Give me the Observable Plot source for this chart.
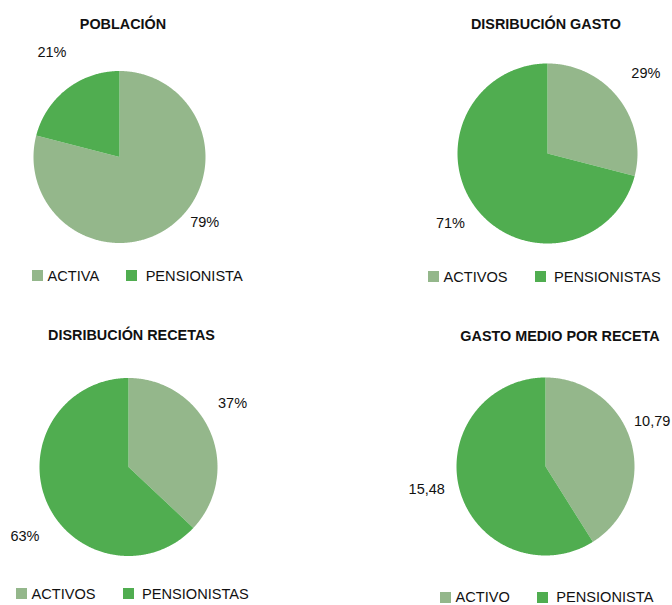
<!DOCTYPE html>
<html><head><meta charset="utf-8">
<script src="https://cdn.jsdelivr.net/npm/d3@7"></script>
<script src="https://cdn.jsdelivr.net/npm/@observablehq/plot@0.6"></script>
<style>
body{margin:0;background:#fff;font-family:"Liberation Sans",Arial,sans-serif;}
#page{position:relative;width:672px;height:605px;overflow:hidden;}
.panel{position:absolute;}
.title{position:absolute;font-weight:bold;font-size:14.4px;transform:translate(-50%,-50%);white-space:nowrap;color:#111;}
.legend{position:absolute;display:flex;align-items:center;font-size:14.6px;transform:translateY(-50%);white-space:nowrap;color:#111;}
.item{display:flex;align-items:center;}
.item:first-child{margin-right:27px;}
.sw{width:11px;height:11px;display:inline-block;}
.item:first-child .sw{margin-right:4.5px;}
.item:nth-child(2) .sw{margin-right:8.5px;}
</style></head><body><div id="page"></div><script>
// ---- data ----
const titles = ["POBLACIÓN", "DISRIBUCIÓN GASTO", "DISRIBUCIÓN RECETAS", "GASTO MEDIO POR RECETA"];
const seriesKeys = ["ACTIVOS", "PENSIONISTAS"];
const activosValues = [79, 29, 37, 10.79];
const pensionistasValues = [21, 71, 63, 15.48];
const activosLabels = ["79%", "29%", "37%", "10,79"];
const pensionistasLabels = ["21%", "71%", "63%", "15,48"];
const legendActivos = ["ACTIVA", "ACTIVOS", "ACTIVOS", "ACTIVO"];
const legendPensionistas = ["PENSIONISTA", "PENSIONISTAS", "PENSIONISTAS", "PENSIONISTA"];
const colors = ["#94b78b", "#50ad50"];

// ---- layout (pixels) ----
const layout = [
  {left:0,   top:0,   w:336, h:300, cx:119, cy:156.5, r:86, titleX:123,   titleY:24,    legendX:32,  legendY:275.5, nudge:[[-14.6,1.25],[5,1.45]]},
  {left:336, top:0,   w:336, h:300, cx:211, cy:153,   r:90, titleX:546,   titleY:24,    legendX:428, legendY:276.5, nudge:[[-1.4,1.41],[2,1.33]]},
  {left:0,   top:300, w:336, h:305, cx:128, cy:166.5, r:89, titleX:131.5, titleY:334.5, legendX:16,  legendY:593.5, nudge:[[-8,1.37],[-10.4,1.40]]},
  {left:336, top:300, w:336, h:305, cx:209, cy:166,   r:89, titleX:560,   titleY:335.5, legendX:440, legendY:597,   nudge:[[-6.7,1.30],[5,1.36]]}
];

const page = document.getElementById("page");

titles.forEach((title, i) => {
  const L = layout[i];
  const values = [activosValues[i], pensionistasValues[i]];
  const texts = [activosLabels[i], pensionistasLabels[i]];
  const arcs = d3.pie().sort(null).value(d => d)(values);
  const pts = [];
  const labels = [];
  arcs.forEach((a, k) => {
    const n = Math.max(2, Math.ceil((a.endAngle - a.startAngle) / (Math.PI / 360)));
    pts.push({key: seriesKeys[k], x: 0, y: 0});
    for (let j = 0; j <= n; j++) {
      const t = a.startAngle + (a.endAngle - a.startAngle) * j / n;
      pts.push({key: seriesKeys[k], x: Math.sin(t), y: Math.cos(t)});
    }
    const mid = (a.startAngle + a.endAngle) / 2 + L.nudge[k][0] * Math.PI / 180;
    const f = L.nudge[k][1];
    labels.push({x: f * Math.sin(mid), y: f * Math.cos(mid), text: texts[k]});
  });

  const chart = Plot.plot({
    width: L.w, height: L.h, margin: 0,
    x: {domain: [-L.cx / L.r, (L.w - L.cx) / L.r], axis: null},
    y: {domain: [-(L.h - L.cy) / L.r, L.cy / L.r], axis: null},
    color: {domain: seriesKeys, range: colors},
    style: {fontFamily: '"Liberation Sans", Arial, sans-serif', background: "transparent", overflow: "visible"},
    marks: [
      Plot.line(pts, {x: "x", y: "y", z: "key", fill: "key", stroke: "none", curve: "linear-closed"}),
      Plot.text(labels, {x: "x", y: "y", text: "text", fontSize: 14.5, fill: "#111", textAnchor: "middle", lineAnchor: "middle"})
    ]
  });
  const panel = document.createElement("div");
  panel.className = "panel";
  panel.style.left = L.left + "px";
  panel.style.top = L.top + "px";
  panel.appendChild(chart);
  page.appendChild(panel);

  const t = document.createElement("div");
  t.className = "title";
  t.textContent = title;
  t.style.left = L.titleX + "px";
  t.style.top = L.titleY + "px";
  page.appendChild(t);

  const lg = document.createElement("div");
  lg.className = "legend";
  lg.style.left = L.legendX + "px";
  lg.style.top = L.legendY + "px";
  [legendActivos[i], legendPensionistas[i]].forEach((name, k) => {
    const it = document.createElement("div");
    it.className = "item";
    const sw = document.createElement("span");
    sw.className = "sw";
    sw.style.background = colors[k];
    const tx = document.createElement("span");
    tx.textContent = name;
    it.appendChild(sw); it.appendChild(tx);
    lg.appendChild(it);
  });
  page.appendChild(lg);
});
</script></body></html>
